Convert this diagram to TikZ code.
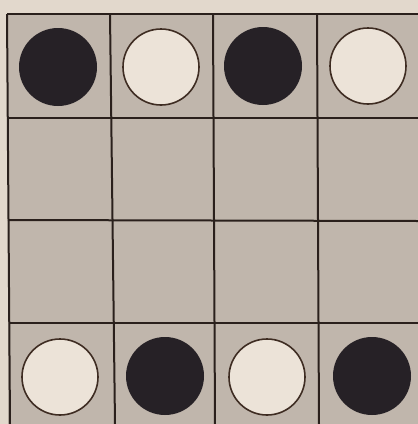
\documentclass[tikz,border=0pt]{standalone}
\begin{document}
\begin{tikzpicture}[x=1pt,y=-1pt,
  paper/.style={fill=paperlight,draw=none},
  board/.style={fill=boardgrey,draw=none},
  gridline/.style={draw=inkline,line width=2pt},
  blackdisc/.style={circle,fill=discblack,draw=none,minimum size=78pt,inner sep=0pt},
  whitedisc/.style={circle,fill=discwhite,draw=discrim,line width=1.6pt,minimum size=76pt,inner sep=0pt}]
\definecolor{paperlight}{RGB}{226,216,204}
\definecolor{boardgrey}{RGB}{192,182,172}
\definecolor{inkline}{RGB}{42,32,28}
\definecolor{discblack}{RGB}{38,33,38}
\definecolor{discwhite}{RGB}{236,227,216}
\definecolor{discrim}{RGB}{62,44,34}
\useasboundingbox (0,0) rectangle (418,424);
\fill[paper] (0,0) rectangle (418,424);
\fill[board] (8,15) rectangle (418,424);
% grid lines
\draw[gridline] (7,14) -- (418,14);
\draw[gridline] (7,118) -- (418,118);
\draw[gridline] (8,220) -- (418,221);
\draw[gridline] (9,323) -- (418,323);
\draw[gridline] (7,14) -- (10,424);
\draw[gridline] (110,14) -- (115,424);
\draw[gridline] (213,14) -- (215,424);
\draw[gridline] (317,14) -- (319,424);
% top row
\node[blackdisc] (a1) at (58,67) {};
\node[whitedisc] (a2) at (161,67) {};
\node[blackdisc] (a3) at (263,66) {};
\node[whitedisc] (a4) at (368,66) {};
% bottom row
\node[whitedisc] (d1) at (60,377) {};
\node[blackdisc] (d2) at (165,376) {};
\node[whitedisc] (d3) at (267,377) {};
\node[blackdisc] (d4) at (372,376) {};
\end{tikzpicture}
\end{document}
